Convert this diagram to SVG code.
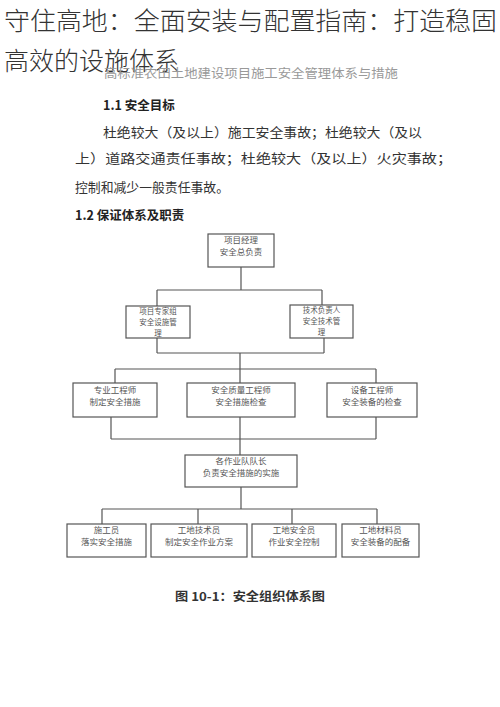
<svg xmlns="http://www.w3.org/2000/svg" width="500" height="707" viewBox="0 0 500 707">
<style>
text{font-family:"Noto Sans CJK SC","Noto Sans",sans-serif}
.title{font-size:25px;fill:#333;font-weight:300}
.sub{font-size:12.5px;fill:#999}
.h{font-size:12.5px;font-weight:bold;fill:#222}
.p{font-size:13px;fill:#333}
.box rect{fill:#fff;stroke:#555;stroke-width:1.2}
.box text{font-size:8.5px;fill:#555;text-anchor:middle}
.box text.s{font-size:7.5px}
#connectors path{fill:none;stroke:#555;stroke-width:1.2}
.cap{font-size:12px;font-weight:bold;fill:#333}
</style>
<rect width="500" height="707" fill="#fff"/>
<text class="title" x="4" y="30" textLength="493" lengthAdjust="spacingAndGlyphs">守住高地：全面安装与配置指南：打造稳固</text>
<text class="title" x="4" y="70">高效的设施体系</text>
<text class="sub" x="104" y="78" textLength="294" lengthAdjust="spacingAndGlyphs">高标准农田土地建设项目施工安全管理体系与措施</text>
<text class="h" x="103" y="110">1.1 安全目标</text>
<text class="p" x="103" y="137" textLength="319" lengthAdjust="spacingAndGlyphs">杜绝较大（及以上）施工安全事故；杜绝较大（及以</text>
<text class="p" x="75" y="163" textLength="377" lengthAdjust="spacingAndGlyphs">上）道路交通责任事故；杜绝较大（及以上）火灾事故；</text>
<text class="p" x="75" y="192" textLength="154" lengthAdjust="spacingAndGlyphs">控制和减少一般责任事故。</text>
<text class="h" x="75" y="220">1.2 保证体系及职责</text>
<g id="connectors">
<path d="M241 267V290M157 290H322M157 290V306M322 290V305"/>
<path d="M157 338V353M324 338V353M157 353H324M240 353V369M115 369H376M115 369V383M240 369V383M376 369V383"/>
<path d="M111 417V439M240 417V439M376 417V439M111 439H376M240 439V455"/>
<path d="M241 487V509M102 509H377M102 509V524M198 509V524M292 509V524M377 509V524"/>
</g>
<g id="n1" class="box"><rect x="208" y="234" width="66" height="33"/><text x="241" y="243">项目经理</text><text x="241" y="255">安全总负责</text></g>
<g id="n2" class="box"><rect x="126" y="306" width="64" height="32"/><text class="s" x="158" y="314">项目专家组</text><text class="s" x="158" y="325">安全设施管</text><text class="s" x="158" y="336">理</text></g>
<g id="n3" class="box"><rect x="290" y="305" width="63" height="33"/><text class="s" x="321.5" y="313">技术负责人</text><text class="s" x="321.5" y="324">安全技术管</text><text class="s" x="321.5" y="335">理</text></g>
<g id="n4" class="box"><rect x="73" y="383" width="84" height="34"/><text x="115" y="393">专业工程师</text><text x="115" y="405">制定安全措施</text></g>
<g id="n5" class="box"><rect x="187" y="383" width="108" height="34"/><text x="241" y="393">安全质量工程师</text><text x="241" y="405">安全措施检查</text></g>
<g id="n6" class="box"><rect x="327" y="383" width="90" height="34"/><text x="372" y="393">设备工程师</text><text x="372" y="405">安全装备的检查</text></g>
<g id="n7" class="box"><rect x="185" y="455" width="112" height="32"/><text x="241" y="464">各作业队队长</text><text x="241" y="476">负责安全措施的实施</text></g>
<g id="n8" class="box"><rect x="67" y="524" width="79" height="33"/><text x="106.5" y="533">施工员</text><text x="106.5" y="545">落实安全措施</text></g>
<g id="n9" class="box"><rect x="151" y="524" width="96" height="33"/><text x="199" y="533">工地技术员</text><text x="199" y="545">制定安全作业方案</text></g>
<g id="n10" class="box"><rect x="252" y="524" width="84" height="33"/><text x="294" y="533">工地安全员</text><text x="294" y="545">作业安全控制</text></g>
<g id="n11" class="box"><rect x="342" y="524" width="77" height="33"/><text x="380.5" y="533">工地材料员</text><text x="380.5" y="545">安全装备的配备</text></g>
<text class="cap" x="175" y="601" textLength="150" lengthAdjust="spacingAndGlyphs">图 10-1：安全组织体系图</text>
</svg>
